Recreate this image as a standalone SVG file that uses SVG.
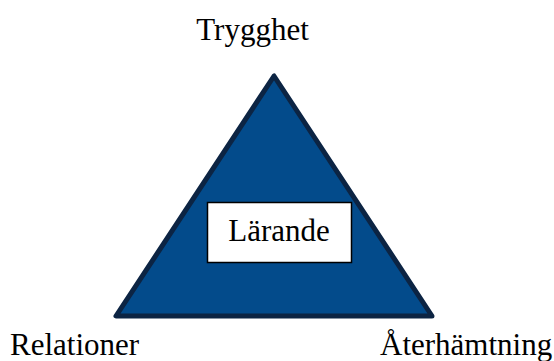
<svg xmlns="http://www.w3.org/2000/svg" width="554" height="361" viewBox="0 0 554 361">
<style>
text{font-family:"Liberation Serif","Times New Roman",serif;font-size:31px;fill:#000}
</style>
<rect width="554" height="361" fill="#fff"/>
<g id="triangle">
<polygon points="274,76 116,316 432,316" fill="#034b8b" stroke="#0c2443" stroke-width="5" stroke-linejoin="round"/>
</g>
<g id="larande">
<rect x="207.5" y="202.5" width="144" height="60" fill="#fff" stroke="#000" stroke-width="1.5"/>
<text x="279" y="241" text-anchor="middle">Lärande</text>
</g>
<g id="trygghet"><text x="252.5" y="40" text-anchor="middle">Trygghet</text></g>
<g id="relationer"><text x="10" y="355">Relationer</text></g>
<g id="aterhamtning"><text x="380" y="355">Återhämtning</text></g>
<g id="connectors"></g>
</svg>
